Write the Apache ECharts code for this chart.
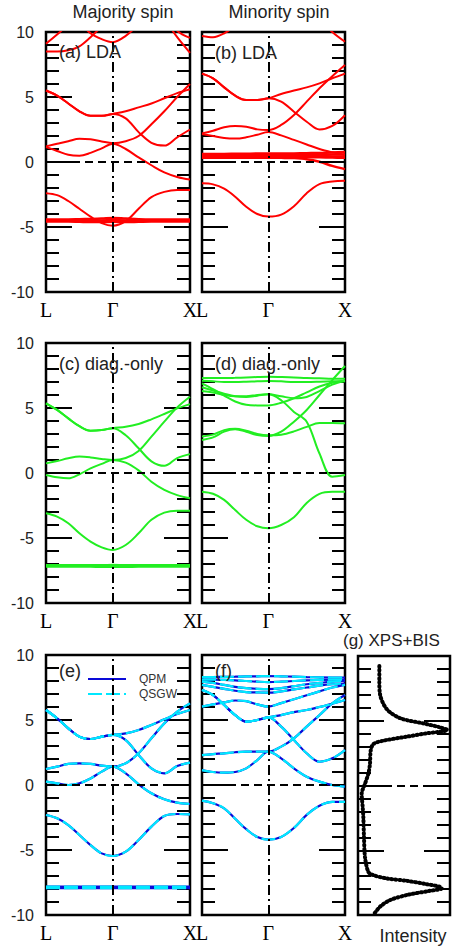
<!DOCTYPE html>
<html><head><meta charset="utf-8">
<script src="https://cdn.jsdelivr.net/npm/echarts@6/dist/echarts.min.js"></script>
<style>html,body{margin:0;padding:0;background:#fff}#c{width:454px;height:948px}</style>
</head><body><div id="c"></div>
<script>
// k-path sample positions (L=0, Gamma=0.866, X=1.866)
const kpts = [0, 0.144, 0.289, 0.433, 0.577, 0.722, 0.866, 1.033, 1.2, 1.366, 1.533, 1.7, 1.866];
const kLabelPos = [0, 0.866, 1.866];
const kLabels = ['L', 'Γ', 'X'];

// (a) LDA majority
const bandsA = [
  [-2.4, -2.55, -3.0, -3.6, -4.2, -4.7, -4.9, -4.55, -3.6, -2.7, -2.3, -2.15, -2.15],
  [1.15, 0.85, 0.55, 0.48, 0.7, 1.05, 1.4, 1.0, 0.35, -0.25, -0.8, -1.15, -1.35],
  [1.2, 1.4, 1.6, 1.78, 1.75, 1.58, 1.45, 1.6, 2.0, 2.9, 3.9, 5.0, 6.0],
  [5.5, 5.1, 4.5, 3.9, 3.55, 3.55, 3.7, 3.9, 4.2, 4.5, 4.9, 5.3, 5.6],
  [5.5, 5.1, 4.5, 3.9, 3.55, 3.55, 3.7, 3.36, 2.3, 1.48, 1.26, 1.9, 2.5],
  [9.1, 9.8, 10.6, 11.4, 12, 12, 12, 12, 12, 12, 12, 12, 12],
  [8.5, 8.5, 8.6, 8.9, 9.6, 10.4, 11, 12, 12, 12, 12, 12, 12],
  [13, 12.5, 11.8, 10.8, 9.9, 9.45, 9.22, 9.7, 10.6, 11.5, 12.5, 13, 13.5],
  [12, 12, 12, 12, 12, 12, 12, 12, 12, 12, 11, 9.6, 8.4],
  [12, 12, 12, 12, 12, 12, 12, 12, 12, 12, 11.5, 10.1, 9.55]
];
const fA = [
  [-4.42, -4.42, -4.42, -4.4, -4.38, -4.35, -4.3, -4.35, -4.4, -4.42, -4.42, -4.42, -4.42],
  [-4.5, -4.5, -4.5, -4.5, -4.5, -4.5, -4.48, -4.5, -4.5, -4.5, -4.5, -4.5, -4.5],
  [-4.58, -4.58, -4.58, -4.6, -4.62, -4.62, -4.6, -4.62, -4.6, -4.58, -4.58, -4.58, -4.58]
];

// (b) LDA minority
const bandsB = [
  [-1.64, -1.72, -2.05, -2.67, -3.44, -4.0, -4.2, -4.05, -3.4, -2.4, -1.7, -1.5, -1.45],
  [2.15, 2.0, 1.85, 1.8, 1.9, 2.1, 2.3, 2.05, 1.7, 1.35, 1.0, 0.75, 0.55],
  [2.2, 2.41, 2.67, 2.77, 2.72, 2.51, 2.46, 2.85, 3.62, 4.64, 5.67, 6.6, 7.46],
  [6.8, 6.44, 5.74, 5.1, 4.77, 4.77, 4.9, 5.23, 5.5, 5.74, 6.05, 6.44, 6.8],
  [6.8, 6.44, 5.74, 5.1, 4.77, 4.77, 4.9, 4.64, 3.87, 3.1, 2.5, 2.77, 3.6],
  [9.7, 9.6, 9.9, 10.5, 11.5, 12, 12, 12, 12, 12, 12, 12, 12],
  [12, 12, 12, 12, 12, 12, 12, 12, 12, 12, 11, 10.0, 9.25]
];
const fB = [
  [0.62, 0.62, 0.62, 0.63, 0.64, 0.65, 0.65, 0.65, 0.66, 0.68, 0.7, 0.74, 0.76],
  [0.53, 0.53, 0.53, 0.54, 0.55, 0.55, 0.55, 0.55, 0.55, 0.55, 0.56, 0.57, 0.57],
  [0.45, 0.45, 0.46, 0.46, 0.47, 0.47, 0.47, 0.47, 0.46, 0.45, 0.44, 0.43, 0.42],
  [0.38, 0.38, 0.38, 0.39, 0.39, 0.4, 0.4, 0.4, 0.39, 0.38, 0.36, 0.34, 0.33],
  [0.32, 0.32, 0.32, 0.32, 0.33, 0.33, 0.33, 0.32, 0.3, 0.22, 0.02, -0.3, -0.55]
];

// (c) diag.-only majority
const bandsC = [
  [-3.1, -3.36, -3.87, -4.64, -5.28, -5.72, -5.92, -5.54, -4.64, -3.6, -3.05, -2.9, -2.9],
  [-0.15, -0.33, -0.41, -0.1, 0.35, 0.7, 1.0, 0.8, 0.2, -0.67, -1.3, -1.7, -1.95],
  [0.74, 0.92, 1.13, 1.26, 1.2, 1.08, 1.0, 1.15, 1.7, 2.8, 3.95, 5.05, 5.87],
  [5.36, 4.85, 4.2, 3.6, 3.25, 3.3, 3.45, 3.55, 3.77, 4.13, 4.54, 4.97, 5.3],
  [5.36, 4.85, 4.2, 3.6, 3.25, 3.3, 3.45, 2.9, 1.9, 0.9, 0.55, 1.15, 1.45]
];
const fC = [
  [-7.1, -7.1, -7.1, -7.1, -7.1, -7.1, -7.08, -7.1, -7.1, -7.1, -7.1, -7.1, -7.1],
  [-7.2, -7.2, -7.2, -7.2, -7.2, -7.22, -7.22, -7.22, -7.2, -7.2, -7.2, -7.2, -7.2]
];

// (d) diag.-only minority
const bandsD = [
  [-1.44, -1.6, -2.07, -2.85, -3.6, -4.1, -4.25, -4.0, -3.4, -2.3, -1.6, -1.44, -1.44],
  [2.54, 2.74, 3.18, 3.36, 3.18, 2.92, 2.85, 3.18, 3.95, 4.85, 6.0, 7.15, 8.23],
  [2.8, 2.95, 3.3, 3.4, 3.25, 3.0, 2.9, 2.95, 3.2, 3.55, 3.85, 3.85, 3.82],
  [6.3, 6.2, 6.0, 5.9, 5.9, 6.0, 6.05, 5.6, 4.7, 3.95, 1.5, -0.28, -0.15],
  [7.3, 7.3, 7.3, 7.32, 7.35, 7.38, 7.4, 7.38, 7.35, 7.3, 7.28, 7.25, 7.25],
  [7.1, 7.05, 7.0, 7.0, 7.02, 7.05, 7.08, 7.05, 7.0, 7.0, 7.02, 7.05, 7.08],
  [6.6, 6.35, 6.1, 5.9, 5.85, 5.95, 6.05, 5.9, 5.75, 5.85, 6.3, 6.8, 7.1],
  [6.9, 6.45, 5.95, 5.5, 5.25, 5.2, 5.2, 5.4, 5.75, 6.2, 6.65, 6.95, 7.05]
];

// (e) QSGW / QPM majority
const bandsE = [
  [-2.31, -2.56, -3.08, -3.85, -4.62, -5.26, -5.46, -5.13, -4.23, -3.2, -2.38, -2.23, -2.26],
  [0.26, 0.13, 0.0, 0.13, 0.5, 1.03, 1.41, 0.9, 0.05, -0.64, -1.1, -1.36, -1.46],
  [1.23, 1.41, 1.62, 1.67, 1.62, 1.49, 1.41, 1.67, 2.44, 3.59, 4.74, 5.64, 6.28],
  [5.77, 5.13, 4.36, 3.72, 3.54, 3.72, 3.85, 3.97, 4.23, 4.62, 5.05, 5.46, 5.77],
  [5.77, 5.13, 4.36, 3.72, 3.54, 3.72, 3.85, 3.46, 2.31, 1.28, 0.9, 1.46, 1.72],
  [-7.82, -7.82, -7.82, -7.82, -7.82, -7.82, -7.82, -7.82, -7.82, -7.82, -7.82, -7.82, -7.82],
  [-7.94, -7.94, -7.94, -7.94, -7.94, -7.94, -7.94, -7.94, -7.94, -7.94, -7.94, -7.94, -7.94]
];

// (f) QSGW / QPM minority
const bandsF = [
  [-1.2, -1.4, -1.8, -2.6, -3.4, -4.0, -4.2, -4.0, -3.3, -2.3, -1.6, -1.3, -1.3],
  [1.15, 1.0, 0.95, 1.0, 1.28, 1.92, 2.56, 2.05, 1.28, 0.64, 0.26, 0.0, -0.13],
  [2.3, 2.38, 2.44, 2.52, 2.56, 2.56, 2.56, 2.95, 3.59, 4.49, 5.38, 6.28, 6.92],
  [7.31, 6.92, 6.15, 5.38, 4.87, 5.0, 5.2, 5.38, 5.6, 5.77, 6.0, 6.25, 6.54],
  [7.31, 6.92, 6.15, 5.38, 4.87, 5.0, 5.2, 4.49, 3.46, 2.44, 1.79, 2.05, 2.69],
  [6.03, 6.2, 6.35, 6.5, 6.45, 6.2, 6.03, 6.3, 6.6, 6.9, 7.2, 7.5, 7.7],
  [8.3, 8.3, 8.32, 8.33, 8.35, 8.36, 8.38, 8.36, 8.33, 8.3, 8.28, 8.27, 8.27],
  [8.1, 8.1, 8.08, 8.05, 8.0, 7.95, 7.92, 7.95, 8.0, 8.05, 8.08, 8.1, 8.1],
  [7.95, 7.85, 7.7, 7.55, 7.45, 7.4, 7.38, 7.45, 7.6, 7.75, 7.85, 7.95, 8.0],
  [7.7, 7.55, 7.4, 7.25, 7.15, 7.12, 7.1, 7.2, 7.35, 7.5, 7.65, 7.75, 7.8]
];

// (g) XPS+BIS spectrum: energy (eV) and intensity (arb.)
const dosEnergy = [9.23, 8.08, 7.05, 5.9, 5.2, 4.8, 4.49, 4.28, 4.15, 4.03, 3.77, 3.46, 3.2, 2.69, 1.67, 0.9, 0.13, -0.64, -1.67, -2.44, -3.97, -5.51, -6.67, -6.92, -7.18, -7.36, -7.62, -7.82, -7.95, -8.13, -8.46, -8.85, -9.36, -10];
const dosIntensity = [23.2, 23.2, 23.9, 31.2, 45.7, 71, 89.1, 97.1, 89.1, 74.6, 52.9, 27.5, 16.7, 13.8, 13.0, 11.2, 7.6, 4.0, 5.1, 5.8, 6.5, 7.6, 11.2, 16.7, 31.2, 52.9, 74.6, 89.1, 91, 78.3, 52.9, 34.8, 23.9, 16.7];

const gridBoxes = [
  {left: 46, top: 32, width: 144, height: 260},
  {left: 202, top: 32, width: 143, height: 260},
  {left: 46, top: 343, width: 144, height: 260},
  {left: 202, top: 343, width: 143, height: 260},
  {left: 46, top: 655, width: 144, height: 260},
  {left: 202, top: 655, width: 143, height: 260},
  {left: 358, top: 656, width: 92, height: 259}
];

const SANS = 'Liberation Sans, Arial, Helvetica, sans-serif';
const SERIF = 'Liberation Serif, Times New Roman, serif';

function yAx(gi, pos, showLabel) {
  return {
    type: 'value', gridIndex: gi, position: pos, min: -10, max: 10, interval: 5,
    axisLine: {show: false},
    axisTick: {show: true, inside: true, length: 26, lineStyle: {color: '#000', width: 2}},
    minorTick: {show: true, splitNumber: 5, length: 13, lineStyle: {color: '#000', width: 2}},
    splitLine: {show: false}, minorSplitLine: {show: false},
    axisLabel: {show: showLabel, fontSize: 16, color: '#222', fontFamily: SANS, margin: 12}
  };
}

const option = {
  animation: false,
  backgroundColor: '#fff',
  grid: gridBoxes.map(g => Object.assign({show: true, borderColor: '#000', borderWidth: 2.5, backgroundColor: 'transparent'}, g)),
  xAxis: [], yAxis: [], series: [], graphic: [], legend: []
};

for (let i = 0; i < 7; i++) {
  if (i < 6) {
    option.xAxis.push({
      type: 'value', gridIndex: i, min: 0, max: 1.866,
      axisLine: {show: false}, axisTick: {show: false}, splitLine: {show: false},
      axisLabel: {
        customValues: kLabelPos,
        formatter: v => { let b = 0; kLabelPos.forEach((p, j) => { if (Math.abs(p - v) < Math.abs(kLabelPos[b] - v)) b = j; }); return kLabels[b]; },
        fontFamily: SERIF, fontSize: 20, lineHeight: 18, color: '#000', margin: 9
      }
    });
  } else {
    option.xAxis.push({
      type: 'value', gridIndex: i, min: 0, max: 100,
      axisLine: {show: false}, axisTick: {show: false}, splitLine: {show: false}, axisLabel: {show: false}
    });
  }
  option.yAxis.push(yAx(i, 'left', i === 0 || i === 2 || i === 4));
  option.yAxis.push(yAx(i, 'right', false));
}

function refLines(withGamma) {
  const data = [{yAxis: 0, lineStyle: {type: [8, 5], width: 1.8, color: '#000'}}];
  if (withGamma) data.push({xAxis: 0.866, lineStyle: {type: [10, 4, 2, 4], width: 2, color: '#000'}});
  return {silent: true, symbol: 'none', label: {show: false}, animation: false, data};
}

function addBands(panel, list, color, width, extra) {
  list.forEach(b => {
    option.series.push(Object.assign({
      type: 'line', xAxisIndex: panel, yAxisIndex: panel * 2, symbol: 'none', smooth: 0.35,
      silent: true, animation: false,
      data: kpts.map((k, j) => [k, b[j]]),
      itemStyle: {color: color},
      lineStyle: {color: color, width: width}
    }, extra || {}));
  });
}

const RED = '#ff0000', GREEN = '#22ee22', BLUE = '#0a0ad8', CYAN = '#00e8ff';
addBands(0, fA, RED, 2.5);
addBands(0, bandsA, RED, 2);
addBands(1, fB, RED, 2.5);
addBands(1, bandsB, RED, 2);
addBands(2, fC, GREEN, 2.5);
addBands(2, bandsC, GREEN, 2);
addBands(3, bandsD, GREEN, 2);
addBands(4, bandsE, BLUE, 2.2, {name: 'QPM'});
addBands(4, bandsE, CYAN, 2.2, {name: 'QSGW', lineStyle: {color: CYAN, width: 2.2, type: [14, 4]}});
addBands(5, bandsF, BLUE, 2.2, {name: 'QPM'});
addBands(5, bandsF, CYAN, 2.2, {name: 'QSGW', lineStyle: {color: CYAN, width: 2.2, type: [14, 4]}});

// reference lines (Fermi level and Gamma)
for (let i = 0; i < 6; i++) {
  option.series.push({type: 'line', xAxisIndex: i, yAxisIndex: i * 2, data: [], markLine: refLines(true), silent: true});
}
option.series.push({type: 'line', xAxisIndex: 6, yAxisIndex: 12, data: [], markLine: refLines(false), silent: true});

// XPS+BIS spectrum
option.series.push({
  type: 'line', xAxisIndex: 6, yAxisIndex: 12, symbol: 'none', smooth: 0.3, silent: true,
  data: dosEnergy.map((e, j) => [dosIntensity[j], e]),
  itemStyle: {color: '#000'},
  lineStyle: {color: '#000', width: 4, type: [1, 3], cap: 'round'}
});

const legendText = {fontSize: 12, color: '#333', fontFamily: SANS, padding: [0, 0, 0, 8]};
option.legend = [
  {data: ['QPM'], left: 87, top: 673, padding: 0, itemWidth: 38, itemHeight: 12,
   itemStyle: {opacity: 0}, textStyle: legendText, selectedMode: false},
  {data: ['QSGW'], left: 87, top: 688, padding: 0, itemWidth: 38, itemHeight: 12,
   itemStyle: {opacity: 0}, textStyle: legendText, selectedMode: false}
];

function txt(t, x, y, size, align) {
  return {type: 'text', x: x, y: y, silent: true, z: 100,
    style: {text: t, fontSize: size, fontFamily: SANS, fill: '#222', align: align || 'left', verticalAlign: 'middle',
      textAlign: align || 'left', textVerticalAlign: 'middle'}};
}
option.graphic = [
  txt('Majority spin', 123, 12, 18, 'center'),
  txt('Minority spin', 279, 12, 18, 'center'),
  txt('(a) LDA', 59, 52, 18),
  txt('(b) LDA', 215, 53, 18),
  txt('(c) diag.-only', 59, 364, 18),
  txt('(d) diag.-only', 215, 364, 18),
  txt('(e)', 59, 671, 18),
  txt('(f)', 215, 671, 18),
  txt('(g) XPS+BIS', 343, 640, 17),
  txt('Intensity', 413, 936, 18, 'center')
];

const chart = echarts.init(document.getElementById('c'), null, {renderer: 'svg', width: 454, height: 948});
chart.setOption(option);
</script>
</body></html>
